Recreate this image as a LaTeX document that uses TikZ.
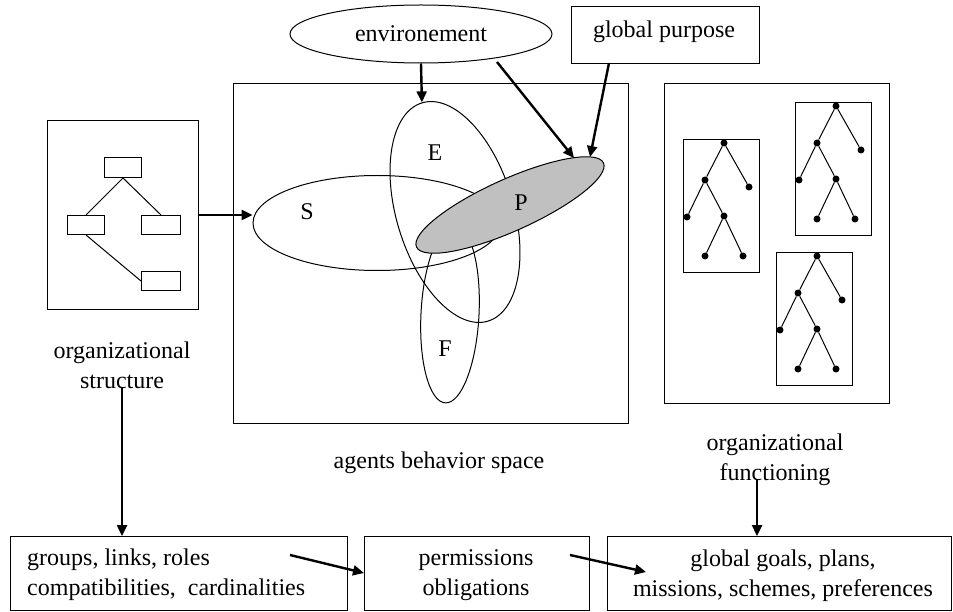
\documentclass[tikz,border=0pt]{standalone}
\usepackage{fontspec}
\setmainfont{Liberation Serif}
\usetikzlibrary{shapes.geometric,arrows.meta}
\definecolor{pgray}{RGB}{192,192,192}
\begin{document}
\begin{tikzpicture}[x=1pt,y=-1pt,
  txt/.style={font=\fontsize{24}{30}\selectfont, inner sep=0pt, align=center},
  box/.style={draw, line width=1.3pt, inner sep=0pt, anchor=north west},
  ell/.style={draw, ellipse, line width=1pt, inner sep=0pt},
  arr/.style={line width=2.4pt, -{Triangle[length=11pt,width=10pt]}},
  thinl/.style={line width=1pt},
  dot/.style={circle, fill, inner sep=0pt, minimum size=7pt}]
\useasboundingbox (0,0) rectangle (953,612);
% top
\node[ell, minimum width=262, minimum height=58, txt] (env) at (421,34) {environement};
\node[box, minimum width=188, minimum height=57] (gp) at (571,6) {};
\node[txt] (gpt) at (664,32) {global purpose};
% agents behavior space
\node[box, minimum width=395, minimum height=340] (ab) at (233,83) {};
\node[ell, minimum width=248, minimum height=95] (S) at (377,223) {};
\node[ell, minimum width=117, minimum height=228, rotate=16.8] (E) at (455,212) {};
\node[ell, minimum width=58, minimum height=178, rotate=-3] (F) at (450,314) {};
\node[ell, fill=pgray, minimum width=205, minimum height=52, rotate=24.2] (P) at (510,205) {};
\node[txt] (lE) at (435,153) {E};
\node[txt] (lS) at (307,212) {S};
\node[txt] (lP) at (521,203) {P};
\node[txt] (lF) at (445,349) {F};
\node[txt] (abt) at (439,463) {agents behavior space};
% organizational structure
\node[box, minimum width=151, minimum height=189] (os) at (47,120) {};
\node[box, line width=1pt, minimum width=37, minimum height=20] (r1) at (104,157) {};
\node[box, line width=1pt, minimum width=37, minimum height=19] (r2) at (67,215) {};
\node[box, line width=1pt, minimum width=39, minimum height=19] (r3) at (141,215) {};
\node[box, line width=1pt, minimum width=39, minimum height=19] (r4) at (141,271) {};
\draw[thinl] (r1.south) -- (r2.north);
\draw[thinl] (r1.south) -- (r3.north);
\draw[thinl] (r2.south) -- (r4.west);
\node[txt] (ost) at (122,365) {organizational\\structure};
% organizational functioning
\node[box, minimum width=225, minimum height=320] (of) at (664,83) {};
\foreach \t/\ox/\oy in {a/683/139, b/795/102, c/776/252} {
  \node[box, minimum width=76, minimum height=133] (tb\t) at (\ox,\oy) {};
  \node[dot] (\t r) at (\ox+41,\oy+4) {};
  \node[dot] (\t l) at (\ox+22,\oy+41) {};
  \node[dot] (\t q) at (\ox+66,\oy+48) {};
  \node[dot] (\t m) at (\ox+4,\oy+78) {};
  \node[dot] (\t n) at (\ox+41,\oy+77) {};
  \node[dot] (\t u) at (\ox+22,\oy+117) {};
  \node[dot] (\t v) at (\ox+60,\oy+117) {};
  \draw[thinl] (\t r) -- (\t l);
  \draw[thinl] (\t r) -- (\t q);
  \draw[thinl] (\t l) -- (\t m);
  \draw[thinl] (\t l) -- (\t n);
  \draw[thinl] (\t n) -- (\t u);
  \draw[thinl] (\t n) -- (\t v);
}
\node[txt] (oft) at (775,460) {organizational\\functioning};
% bottom boxes
\node[box, minimum width=337, minimum height=74] (B1) at (10,536) {};
\node[box, minimum width=225, minimum height=74] (B2) at (364,536) {};
\node[box, minimum width=344, minimum height=74] (B3) at (607,536) {};
\node[txt, align=left, anchor=west] (b1t) at (27,575) {groups, links, roles\\compatibilities,\ \ cardinalities};
\node[txt] (b2t) at (476,575) {permissions\\obligations};
\node[txt] (b3t) at (783,576) {global goals, plans,\\missions, schemes, preferences};
% connectors
\coordinate (osr) at (198,215);
\draw[arr] (osr) -- (S.west |- osr);
\draw[arr] (env.south) -- (E.north);
\coordinate (e2) at (497,62);
\coordinate (p1) at (574,158);
\draw[arr] (e2) -- (p1);
\coordinate (g1) at (609,63);
\coordinate (p2) at (590,157);
\draw[arr] (g1) -- (p2);
\coordinate (cs) at (122,387);
\draw[arr] (cs) -- (cs |- B1.north);
\coordinate (cf) at (757,480);
\draw[arr] (cf) -- (cf |- B3.north);
\coordinate (a1) at (290,555);
\coordinate (a2) at (364,573);
\draw[arr] (a1) -- (a2);
\coordinate (a3) at (570,555);
\coordinate (a4) at (646,572);
\draw[arr] (a3) -- (a4);
\end{tikzpicture}
\end{document}
